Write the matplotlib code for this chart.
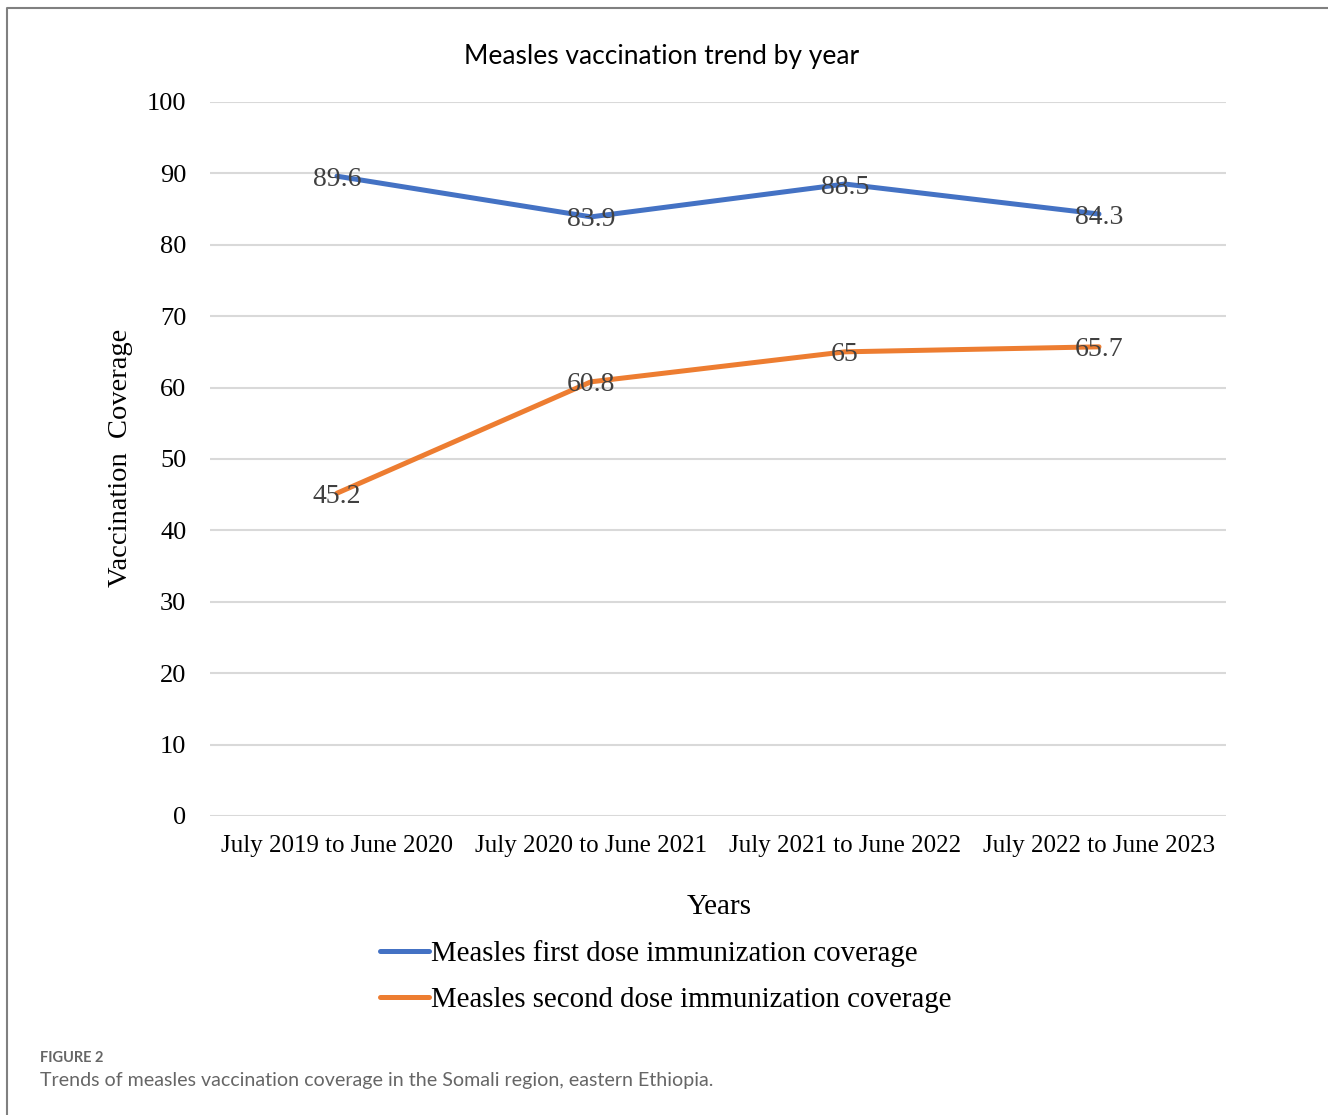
import numpy as np
import matplotlib.pyplot as plt
from matplotlib.lines import Line2D

# data
years = ['July 2019 to June 2020', 'July 2020 to June 2021',
         'July 2021 to June 2022', 'July 2022 to June 2023']
first_dose = [89.6, 83.9, 88.5, 84.3]
second_dose = [45.2, 60.8, 65, 65.7]
first_labels = ['89.6', '83.9', '88.5', '84.3']
second_labels = ['45.2', '60.8', '65', '65.7']

serif = 'Liberation Serif'
blue = '#4472C4'
orange = '#ED7D31'

fig = plt.figure(figsize=(13.28, 11.15), dpi=100)
ax = fig.add_axes([0.1581, 0.2682, 0.7651, 0.6404])

x = np.arange(len(years))
ax.plot(x, first_dose, color=blue, lw=3.6, solid_capstyle='round', zorder=3)
ax.plot(x, second_dose, color=orange, lw=3.6, solid_capstyle='round', zorder=3)

#data labels centred on the points
for i in range(len(x)):
    ax.text(x[i], first_dose[i], first_labels[i], ha='center', va='center_baseline',
            fontsize=20, family=serif, color='#404040', zorder=4)
    ax.text(x[i], second_dose[i], second_labels[i], ha='center', va='center_baseline',
            fontsize=20, family=serif, color='#404040', zorder=4)

ax.set_xlim(-0.5, 3.5)
ax.set_ylim(0, 100)
ax.set_yticks(np.arange(0, 101, 10))
ax.set_xticks(x)
ax.set_xticklabels(years)
ax.yaxis.grid(True, color='#D9D9D9', lw=1.5)
ax.set_axisbelow(True)
for s in ax.spines.values():
    s.set_visible(False)
ax.tick_params(length=0)
ax.tick_params(axis='y', labelsize=19, pad=17)
ax.tick_params(axis='x', labelsize=18, pad=14)
for lab in ax.get_xticklabels() + ax.get_yticklabels():
    lab.set_family(serif)

fig.text(0.0904, 0.5892, 'Vaccination  Coverage', family=serif, fontsize=20.5,
         rotation=90, ha='center', va='center')
fig.text(0.4985, 0.9489, 'Measles vaccination trend by year', family='Lato',
         fontsize=19, ha='center', va='center')
fig.text(0.5414, 0.1865, 'Years', family=serif, fontsize=21, ha='center', va='center')

handles = [Line2D([], [], color=blue, lw=3.6, solid_capstyle='round'),
           Line2D([], [], color=orange, lw=3.6, solid_capstyle='round')]
fig.legend(handles, ['Measles first dose immunization coverage',
                     'Measles second dose immunization coverage'],
           loc='upper left', bbox_to_anchor=(0.2666, 0.1800), frameon=False,
           prop={'family': serif, 'size': 20.8}, handlelength=1.7,
           handletextpad=0.05, labelspacing=0.68)

# frame of the figure panel
fig.add_artist(Line2D([0.0053, 0.0053, 1.0], [0.0, 0.9928, 0.9928],
                      color='#808080', lw=1.5, transform=fig.transFigure))

fig.text(0.030, 0.0515, 'FIGURE 2', family='Lato', fontsize=10.5,
         color='#666666', weight='bold', va='center')
fig.text(0.030, 0.031, 'Trends of measles vaccination coverage in the Somali region, eastern Ethiopia.',
         family='Lato', fontsize=14.1, color='#666666', va='center')

plt.savefig('out.png')
